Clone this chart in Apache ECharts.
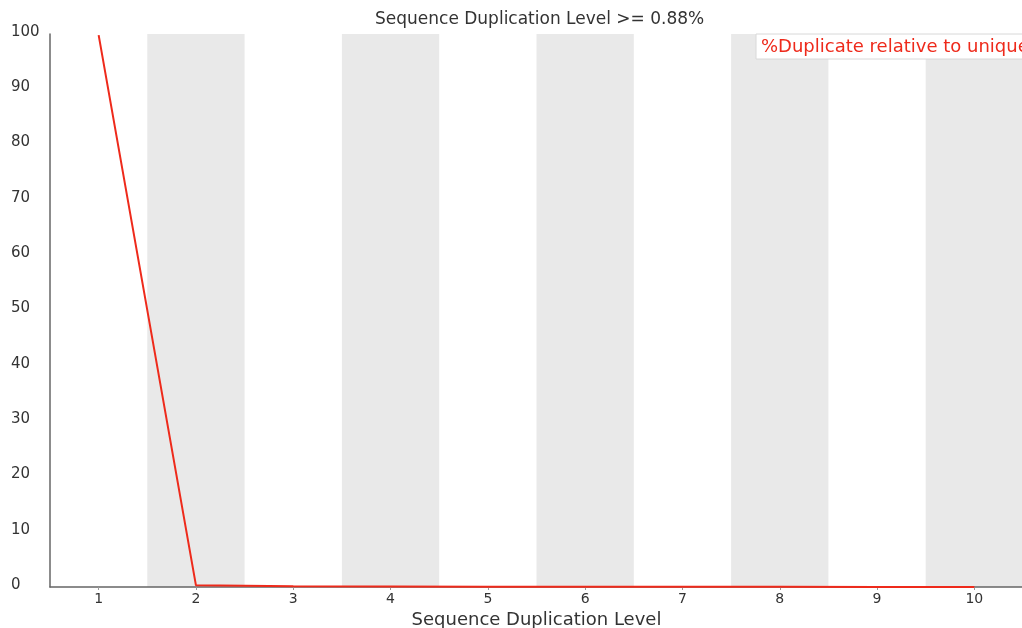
<!DOCTYPE html>
<html><head><meta charset="utf-8">
<script src="https://cdn.jsdelivr.net/npm/echarts@6/dist/echarts.min.js"></script>
<style>html,body{margin:0;padding:0;background:#fff}#c{width:1022px;height:628px}</style>
</head><body><div id="c"></div>
<script>
const categories = ['1','2','3','4','5','6','7','8','9','10'];
const dupValues = [99.8, 0.3, 0.12, 0.08, 0.05, 0.04, 0.03, 0.03, 0.02, 0.02];
const seriesName = '%Duplicate relative to unique';
const titleText = 'Sequence Duplication Level >= 0.88%';
const xName = 'Sequence Duplication Level';

const font = 'DejaVu Sans';
const chart = echarts.init(document.getElementById('c'), null, {renderer: 'canvas'});
chart.setOption({
  animation: false,
  backgroundColor: '#fff',
  title: {
    text: titleText, left: 370, top: 6,
    textStyle: {fontFamily: font, fontSize: 17, fontWeight: 'normal', color: '#333'}
  },
  legend: {
    data: [seriesName], left: 756, top: 34,
    icon: 'none', itemWidth: 0, itemGap: 0,
    backgroundColor: '#fff', borderColor: '#d8d8d8', borderWidth: 1,
    padding: [4, 3, 3, 0],
    textStyle: {fontFamily: font, fontSize: 18, color: '#ee2a1b'}
  },
  grid: {left: 50, right: -1, top: 34, bottom: 41, containLabel: false, outerBoundsMode: 'none'},
  xAxis: {
    type: 'category', data: categories, boundaryGap: true,
    name: xName, nameLocation: 'middle', nameGap: 23,
    nameTextStyle: {fontFamily: font, fontSize: 18, color: '#333'},
    axisLine: {lineStyle: {color: '#666', width: 1.5}},
    axisTick: {show: true, alignWithLabel: true, length: 3, lineStyle: {color: '#999'}},
    axisLabel: {fontFamily: font, fontSize: 14, color: '#333', margin: 5},
    splitLine: {show: false},
    splitArea: {show: true, areaStyle: {color: ['rgba(255,255,255,0)', '#e9e9e9']}}
  },
  yAxis: {
    type: 'value', min: 0, max: 100, interval: 10,
    axisLine: {show: true, lineStyle: {color: '#666', width: 1.5}},
    axisTick: {show: false},
    axisLabel: {fontFamily: font, fontSize: 15, color: '#333', margin: 39, align: 'left', verticalAlign: 'bottom', lineHeight: 4},
    splitLine: {show: false}
  },
  series: [{
    name: seriesName, type: 'line', data: dupValues,
    symbol: 'none', z: 5,
    lineStyle: {color: '#ee2a1b', width: 2},
    itemStyle: {color: '#ee2a1b'}
  }]
});
</script></body></html>
